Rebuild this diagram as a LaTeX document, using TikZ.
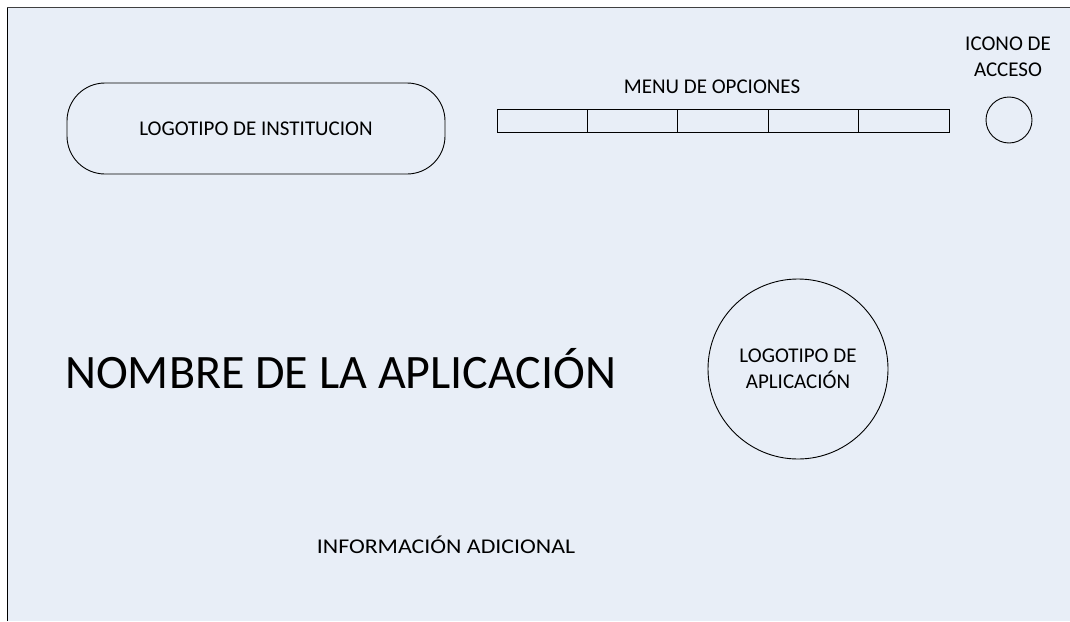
\documentclass[tikz,border=0pt]{standalone}
\usepackage{fontspec}
\setmainfont{Carlito}
\definecolor{fondo}{RGB}{232,238,247}

\begin{document}
\begin{tikzpicture}[x=1pt,y=-1pt,
		etiqueta/.style={font=\fontsize{21}{26}\selectfont, inner sep=0pt, align=center},
		linea/.style={draw=black, line width=0.9pt}]
		\useasboundingbox (0,0) rectangle (1070,621);
		\fill[fondo] (7,7) rectangle (1070,621);
		\draw[line width=1pt] (7,621) -- (7,7);
		\draw[line width=1pt, black!75] (7,7) -- (1070,7);
		% cabecera
		\node[linea, etiqueta, rounded corners=38pt, minimum width=378pt, minimum height=91pt] (inst) at (256,128.5) {LOGOTIPO DE INSTITUCION};
		\node[etiqueta, anchor=base] (menu) at (712,93) {MENU DE OPCIONES};
		\foreach \i in {0,...,4}
			\draw[linea] (497+\i*90.4,109) rectangle ++(90.4,23);
		\node[etiqueta] (icono) at (1008,57) {ICONO DE\\ACCESO};
		\node[linea, circle, minimum size=46pt] (acceso) at (1009,120) {};
		% cuerpo
		\node[linea, etiqueta, circle, minimum size=180pt] (app) at (798,369) {LOGOTIPO DE\\APLICACIÓN};
		\node[font=\fontsize{48}{58}\selectfont, inner sep=0pt, anchor=base west] (nombre) at (65,388) {NOMBRE DE LA APLICACIÓN};
		\node[etiqueta, anchor=base] (info) at (446,553) {\scalebox{1.135}[1]{INFORMACIÓN ADICIONAL}};
	\end{tikzpicture}
\end{document}
